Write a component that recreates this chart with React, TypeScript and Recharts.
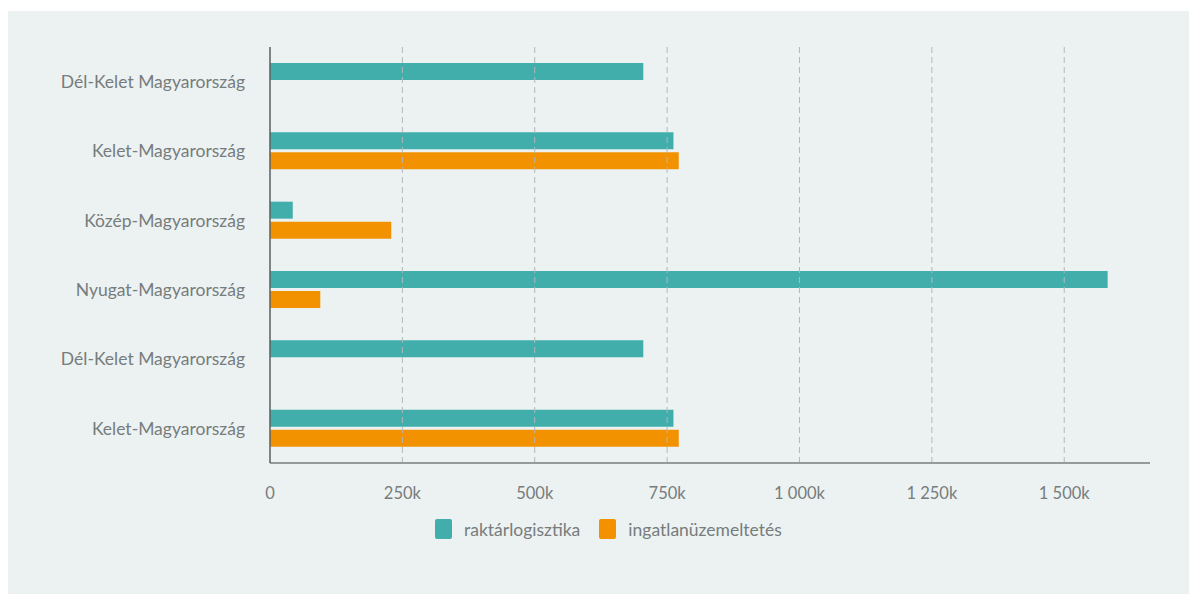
import React from 'react';
import { BarChart, Bar, XAxis, YAxis, Legend, ReferenceLine } from 'recharts';

const regions = [
  'Dél-Kelet Magyarország',
  'Kelet-Magyarország',
  'Közép-Magyarország',
  'Nyugat-Magyarország',
  'Dél-Kelet Magyarország',
  'Kelet-Magyarország',
];
const raktarlogisztika = [705000, 762000, 43000, 1582000, 705000, 762000];
const ingatlanuzemeltetes = [null, 772000, 229000, 95000, null, 772000];
const xTicks = [0, 250000, 500000, 750000, 1000000, 1250000, 1500000];

const TEAL = '#41aeab';
const ORANGE = '#f39200';
const TEXT = '#777c7d';

const data = regions.map((name, i) => ({
  name,
  raktarlogisztika: raktarlogisztika[i],
  ingatlanuzemeltetes: ingatlanuzemeltetes[i],
}));

// 1250000 -> "1 250k"
const formatTick = (v: number) => {
  if (v === 0) return '0';
  const k = v / 1000;
  return k.toString().replace(/\B(?=(\d{3})+(?!\d))/g, ' ') + 'k';
};

const legendItems = [
  { label: 'raktárlogisztika', color: TEAL },
  { label: 'ingatlanüzemeltetés', color: ORANGE },
];

const LegendContent = () => (
  <div style={{ display: 'flex', alignItems: 'center', height: 24, fontFamily: 'Lato, sans-serif', fontSize: 17.5, color: TEXT }}>
    {legendItems.map((item, i) => (
      <div key={item.label} style={{ display: 'flex', alignItems: 'center', marginRight: i === 0 ? 19 : 0 }}>
        <span style={{ display: 'inline-block', width: 17, height: 20, borderRadius: 2, backgroundColor: item.color, marginRight: 12 }} />
        <span>{item.label}</span>
      </div>
    ))}
  </div>
);

export default function App() {
  return (
    <div style={{ position: 'relative', top: 3, width: 1189, height: 586, backgroundColor: '#ecf2f2' }}>
      <BarChart
        width={1189}
        height={586}
        data={data}
        layout="vertical"
        margin={{ top: 36, right: 47, left: 0, bottom: 70 }}
        barSize={17}
        barGap={3}
      >
        {xTicks.slice(1).map((t) => (
          <ReferenceLine key={t} x={t} stroke="#b3b8b8" strokeDasharray="6 4" />
        ))}
        <XAxis
          type="number"
          domain={[0, 1662000]}
          ticks={xTicks}
          tickFormatter={formatTick}
          axisLine={{ stroke: '#959b9b', strokeWidth: 2 }}
          tickLine={false}
          tickSize={0}
          tickMargin={24}
          height={40}
          tick={{ fill: TEXT, fontSize: 16.5, fontFamily: 'Lato, sans-serif' }}
        />
        <YAxis
          type="category"
          dataKey="name"
          width={262}
          axisLine={{ stroke: '#5a5f60', strokeWidth: 1.5 }}
          tickLine={false}
          tickSize={0}
          tickMargin={25}
          tick={{ fill: TEXT, fontSize: 17.5, fontFamily: 'Lato, sans-serif' }}
        />
        <Legend
          content={<LegendContent />}
          wrapperStyle={{ top: 506, left: 427, bottom: 'auto', width: 'auto' }}
        />
        <Bar dataKey="raktarlogisztika" name="raktárlogisztika" fill={TEAL} isAnimationActive={false} />
        <Bar dataKey="ingatlanuzemeltetes" name="ingatlanüzemeltetés" fill={ORANGE} isAnimationActive={false} />
      </BarChart>
    </div>
  );
}
